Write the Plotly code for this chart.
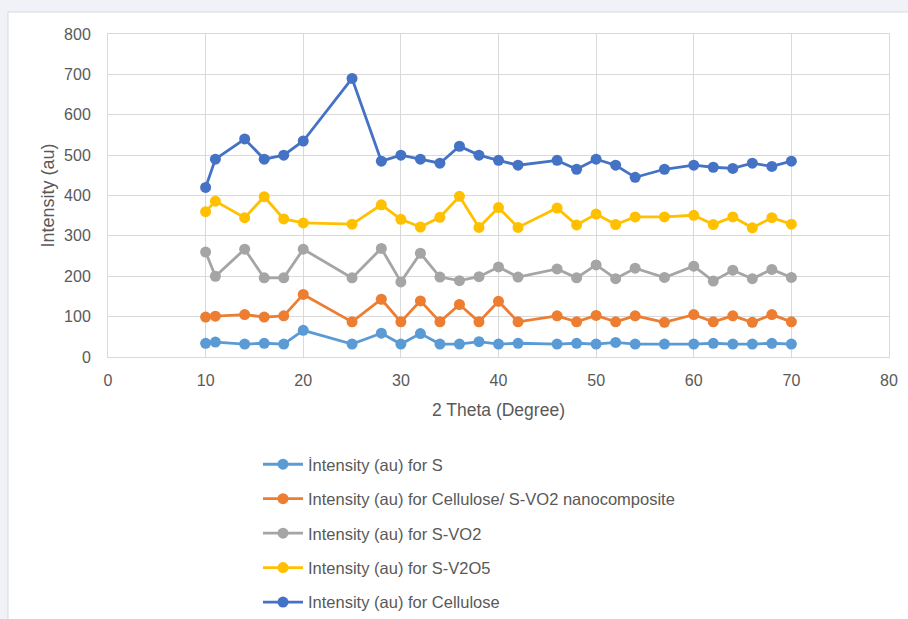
import plotly.graph_objects as go

theta = [10, 11, 14, 16, 18, 20, 25, 28, 30, 32, 34, 36, 38, 40, 42, 46, 48, 50, 52, 54, 57, 60, 62, 64, 66, 68, 70]

s_vals = [34, 37, 32, 34, 32, 66, 32, 59, 32, 58, 32, 32, 38, 32, 34, 32, 34, 32, 36, 32, 32, 32, 34, 32, 32, 34, 32]
cell_svo2_vals = [99, 101, 105, 99, 102, 155, 87, 143, 87, 139, 87, 130, 87, 138, 87, 102, 87, 103, 87, 102, 86, 105, 87, 102, 86, 105, 87]
svo2_vals = [260, 200, 267, 196, 196, 267, 196, 269, 186, 257, 198, 189, 199, 223, 198, 218, 196, 228, 194, 220, 197, 225, 188, 215, 194, 217, 197]
sv2o5_vals = [360, 386, 345, 397, 342, 332, 329, 377, 341, 322, 346, 398, 321, 370, 321, 369, 327, 354, 328, 347, 347, 351, 328, 347, 320, 345, 329]
cellulose_vals = [420, 490, 540, 490, 500, 535, 690, 485, 500, 490, 480, 522, 500, 487, 475, 487, 465, 490, 475, 445, 465, 475, 470, 467, 480, 472, 485]

series_names = [
    "İntensity (au) for S",
    "Intensity (au) for Cellulose/ S-VO2 nanocomposite",
    "Intensity (au) for S-VO2",
    "Intensity (au) for S-V2O5",
    "Intensity (au) for Cellulose",
]
series_values = [s_vals, cell_svo2_vals, svo2_vals, sv2o5_vals, cellulose_vals]
series_colors = ["#5B9BD5", "#ED7D31", "#A5A5A5", "#FFC000", "#4472C4"]

x_ticks = [0, 10, 20, 30, 40, 50, 60, 70, 80]
y_ticks = [0, 100, 200, 300, 400, 500, 600, 700, 800]

FONT = "Liberation Sans"
TXT = "#595959"

fig = go.Figure()
for i, (name, vals, col) in enumerate(zip(series_names, series_values, series_colors)):
    fig.add_trace(go.Scatter(
        x=theta, y=vals, name=name, mode="lines+markers",
        line=dict(color=col, width=2.8),
        marker=dict(color=col, size=11),
        legendgroup=f"g{i}",
    ))

W, H = 908, 619
L, R, T, B = 108, 19, 34, 262
pw, ph = W - L - R, H - T - B

def px_x(p):
    return (p - L) / pw

def px_y(p):
    return (H - B - p) / ph

fig.add_shape(type="rect", xref="paper", yref="paper",
              x0=px_x(8), x1=px_x(W + 10), y0=px_y(H + 10), y1=px_y(12),
              fillcolor="white", line=dict(color="#d9d9d9", width=1), layer="below")

fig.update_layout(
    width=W, height=H,
    margin=dict(l=L, r=R, t=T, b=B, autoexpand=False),
    paper_bgcolor="#f1f2f7",
    plot_bgcolor="rgba(0,0,0,0)",
    font=dict(family=FONT, color=TXT, size=16),
    showlegend=True,
    legend=dict(
        x=px_x(258), y=px_y(447), xanchor="left", yanchor="top",
        traceorder="grouped", tracegroupgap=10, itemwidth=40,
        font=dict(family=FONT, size=16.5, color=TXT),
        bgcolor="rgba(0,0,0,0)",
    ),
    xaxis=dict(
        range=[0, 80], tickvals=x_ticks, ticktext=[str(v) for v in x_ticks],
        showgrid=True, gridcolor="#d9d9d9", gridwidth=1,
        showline=True, linecolor="#d9d9d9", mirror=True,
        zeroline=False, ticks="", ticklabelstandoff=9,
        tickfont=dict(size=16, color=TXT),
        title=dict(text="2 Theta (Degree)", font=dict(size=17.5, color=TXT), standoff=15),
    ),
    yaxis=dict(
        range=[0, 800], tickvals=y_ticks, ticktext=[str(v) for v in y_ticks],
        showgrid=True, gridcolor="#d9d9d9", gridwidth=1,
        showline=True, linecolor="#d9d9d9", mirror=True,
        zeroline=False, ticks="", ticklabelstandoff=13,
        tickfont=dict(size=16, color=TXT),
        title=dict(text="Intensity (au)", font=dict(size=18, color=TXT), standoff=4),
    ),
)

fig.write_html("out.html", config={"displayModeBar": False},
               post_script="document.body.style.margin='0';")
